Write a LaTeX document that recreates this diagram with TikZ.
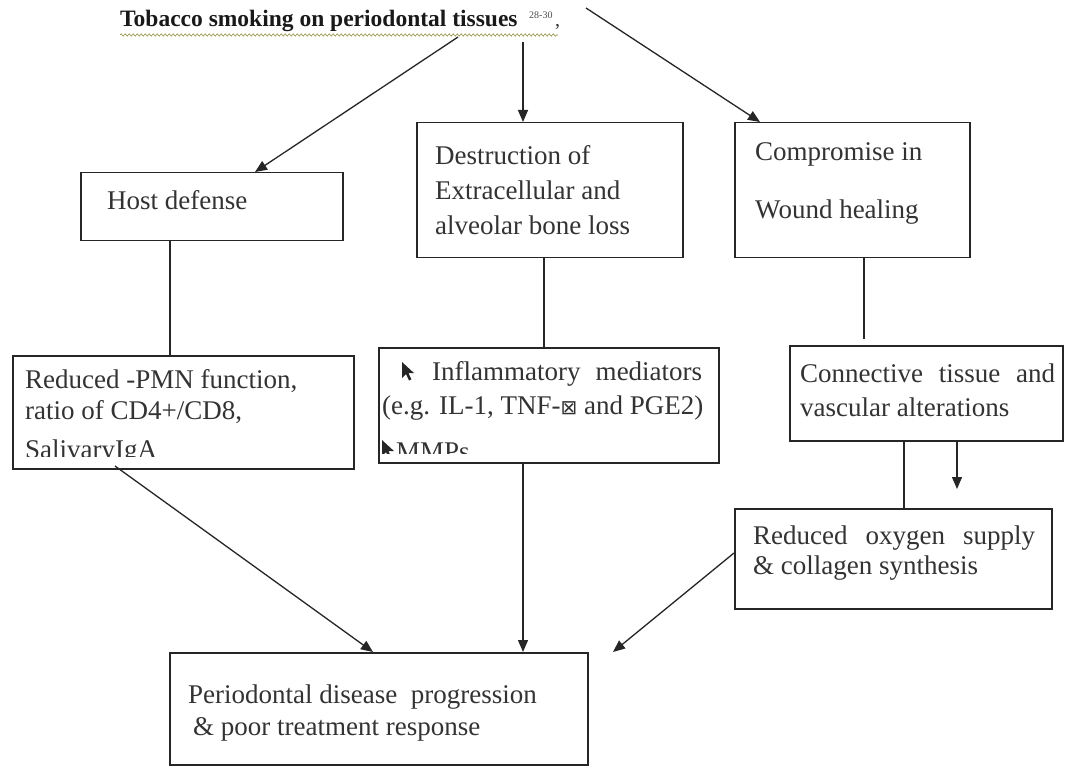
\documentclass[tikz,border=0pt]{standalone}
\usepackage{fontspec}
\setmainfont{Liberation Serif}
\newfontfamily\symfont{DejaVu Sans}
\usetikzlibrary{arrows.meta,decorations.pathmorphing}
\begin{document}
\begin{tikzpicture}[x=1pt,y=-1pt,
  box/.style={draw=black!85, line width=1.5pt, inner sep=0pt, anchor=north west},
  txt/.style={anchor=base west, inner sep=0pt, text=black!80, font=\fontsize{27}{30}\selectfont},
  conn/.style={draw=black!85, line width=1.3pt},
  arr/.style={conn, -{Triangle[length=12pt,width=10pt]}},
  ptr/.style={fill=black!85}
]
\useasboundingbox[fill=white] (0,0) rectangle (1065,767);

% title
\node[anchor=base west, inner sep=0pt, text=black!90, font=\fontsize{23.5}{26}\selectfont\bfseries] (title) at (120,27) {Tobacco smoking on periodontal tissues};
\node[anchor=base west, inner sep=0pt, text=black!70, font=\fontsize{10}{10}\selectfont] (sup) at (529,19) {28-30};
\node[anchor=base west, inner sep=0pt, text=black!80, font=\fontsize{20}{20}\selectfont] (comma) at (555,27) {,};
\draw[decorate, decoration={snake, amplitude=1.1pt, segment length=4pt}, draw=olive!60!gray, line width=0.6pt] (120,35) -- (558,35);

% boxes
\node[box, minimum width=262pt, minimum height=68pt] (host) at (80,172) {};
\node[box, minimum width=266pt, minimum height=135pt] (destr) at (416,122) {};
\node[box, minimum width=235pt, minimum height=135pt] (comp) at (734,122) {};
\node[box, minimum width=341pt, minimum height=113pt] (pmn) at (12,355) {};
\node[box, minimum width=340pt, minimum height=115pt] (infl) at (378,347) {};
\node[box, minimum width=273pt, minimum height=95pt] (conn) at (789,345) {};
\node[box, minimum width=317pt, minimum height=100pt] (oxy) at (734,508) {};
\node[box, minimum width=418pt, minimum height=112pt] (prog) at (169,652) {};

% texts
\node[txt] (hostT) at (107,210) {Host defense};
\node[txt] (destrT1) at (435,165) {Destruction of};
\node[txt] (destrT2) at (435,200) {Extracellular and};
\node[txt] (destrT3) at (435,235) {alveolar bone loss};
\node[txt] (compT1) at (755,161) {Compromise in};
\node[txt] (compT2) at (755,219) {Wound healing};
\node[txt] (pmnT1) at (25,388) {Reduced -PMN function,};
\node[txt] (pmnT2) at (25,419) {ratio of CD4+/CD8,};
\begin{scope}
\clip (0,0) rectangle (1065,456);
\node[txt] (pmnT3) at (25,458) {SalivaryIgA};
\end{scope}
\fill[ptr] (402,362) -- ++(0,16) -- ++(4,-4) -- ++(3,6.5) -- ++(2.4,-1.2) -- ++(-3,-6.3) -- ++(5.5,0) -- cycle;
\node[txt] (inflT1) at (432,380) {\makebox[270pt][s]{Inflammatory\hfill mediators}};
\node[txt] (inflT2) at (382,414) {(e.g. IL-1, TNF-{\symfont\fontsize{20}{20}\selectfont ⊠} and PGE2)};
\begin{scope}
\clip (0,0) rectangle (1065,453);
\fill[ptr] (382,440) -- ++(0,16) -- ++(4,-4) -- ++(3,6.5) -- ++(2.4,-1.2) -- ++(-3,-6.3) -- ++(5.5,0) -- cycle;
\node[txt] (inflT3) at (396,460) {MMPs};
\end{scope}
\node[txt] (connT1) at (800,382) {\makebox[255pt][s]{Connective\hfill tissue\hfill and}};
\node[txt] (connT2) at (800,416) {vascular alterations};
\node[txt] (oxyT1) at (753,544) {\makebox[282pt][s]{Reduced\hfill oxygen\hfill supply}};
\node[txt] (oxyT2) at (753,574) {\& collagen synthesis};
\node[txt] (progT1) at (188,703) {Periodontal disease\ \ progression};
\node[txt] (progT2) at (193,735) {\& poor treatment response};

% connectors
\coordinate (t1) at (458,37);
\coordinate (t2) at (523,42);
\coordinate (t3) at (586,8);
\draw[arr] (t1) -- (host.north -| 255,0);
\draw[arr] (t2) -- (destr.north -| 523,0);
\draw[arr] (t3) -- (comp.north -| 760,0);

\draw[conn] (host.south -| 170,0) -- (pmn.north -| 170,0);
\draw[conn] (destr.south -| 544,0) -- (infl.north -| 544,0);
\coordinate (c1) at (864,339);
\draw[conn] (comp.south -| c1) -- (c1);
\draw[conn] (conn.south -| 904,0) -- (oxy.north -| 904,0);
\coordinate (f1) at (957,442);
\coordinate (f2) at (957,489);
\draw[arr] (f1) -- (f2);

\coordinate (p1) at (115,466);
\draw[arr] (p1) -- (prog.north -| 373,0);
\draw[arr] (infl.south -| 523,0) -- (prog.north -| 523,0);
\coordinate (o1) at (734,553);
\coordinate (o2) at (613,652);
\draw[arr] (o1) -- (o2);
\end{tikzpicture}
\end{document}
